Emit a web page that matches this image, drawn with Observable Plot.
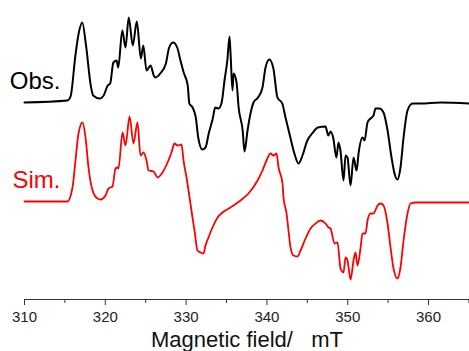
<!DOCTYPE html>
<html>
<head>
<meta charset="utf-8">
<script src="https://cdn.jsdelivr.net/npm/d3@7"></script>
<script src="https://cdn.jsdelivr.net/npm/@observablehq/plot@0.6"></script>
<style>
  html, body { margin: 0; padding: 0; background: #fff; }
  #chart { width: 469px; height: 351px; overflow: hidden; }
</style>
</head>
<body>
<div id="chart"></div>
<script>
// Magnetic field (mT) and signal (arbitrary units, relative to each trace's baseline)
const obsField = [310.0, 315.3, 315.7, 316.3, 316.7, 317.15, 317.6, 318.2, 318.5, 319.3, 319.8, 320.3, 320.6, 321.0, 321.4, 321.6, 322.1, 322.5, 322.9, 323.4, 323.9, 324.4, 324.7, 325.1, 325.6, 326.0, 326.2, 326.8, 327.5, 327.9, 328.4, 328.9, 329.3, 329.7, 330.2, 330.4, 330.8, 331.2, 331.5, 332.0, 332.4, 332.8, 333.3, 333.6, 334.0, 334.4, 334.75, 335.1, 335.37, 335.5, 335.74, 335.87, 336.24, 336.5, 337.0, 337.23, 337.6, 337.97, 338.34, 338.9, 339.45, 339.83, 340.3, 340.8, 341.3, 341.9, 342.3, 342.9, 343.4, 343.9, 344.4, 345.0, 345.6, 346.3, 347.25, 347.6, 347.87, 348.2, 348.6, 348.86, 349.1, 349.48, 349.73, 349.97, 350.35, 350.72, 351.1, 351.34, 351.83, 352.08, 352.45, 352.82, 353.19, 353.44, 353.93, 354.43, 354.93, 355.42, 355.79, 356.16, 356.53, 356.91, 357.4, 358.02, 359.0, 361.5, 365.07];
const obsSignal = [0, 2, 6, 47, 69, 80, 58, 17, 7, 4, 7, 17, 19, 40, 42, 35, 72, 55, 85, 57, 81, 44, 57, 32, 37, 27, 25, 29, 39, 55, 60, 55, 42, 30, 17, -1, -5, -15, -35, -47, -45, -31, -16, -5, -6, 0, 22, 42, 66, 49, 12, 29, 20, -5, -28, -49, -28, -11, 0, 5, 15, 35, 43, 34, 5, -1, -15, -35, -51, -61, -53, -38, -31, -25, -24, -33, -29, -35, -55, -40, -48, -78, -53, -55, -83, -55, -68, -51, -35, -38, -20, -16, -13, -6, -6, -10, -28, -55, -71, -77, -65, -35, -8, -1, -1, 0, -1];

const simField = [310.0, 315.3, 315.94, 316.31, 316.68, 317.18, 317.55, 317.92, 318.42, 319.03, 319.41, 320.02, 320.4, 320.89, 321.26, 321.51, 321.63, 322.13, 322.5, 323.0, 323.49, 323.98, 324.36, 324.73, 325.1, 325.35, 325.97, 326.46, 327.08, 327.7, 328.19, 328.56, 328.94, 329.43, 329.68, 330.05, 330.3, 330.79, 331.04, 331.41, 331.78, 332.15, 332.4, 332.77, 333.27, 333.89, 334.5, 335.49, 336.73, 337.72, 338.84, 339.45, 339.95, 340.44, 340.82, 341.19, 341.44, 341.93, 342.05, 342.43, 342.67, 342.92, 343.29, 343.79, 344.16, 344.78, 345.4, 346.01, 346.63, 347.25, 347.62, 347.87, 348.37, 348.74, 349.11, 349.48, 349.73, 349.97, 350.35, 350.72, 350.96, 351.21, 351.58, 351.83, 352.2, 352.45, 352.82, 353.19, 353.69, 354.06, 354.43, 354.93, 355.3, 355.67, 356.16, 356.53, 356.91, 357.4, 357.77, 358.39, 361.0, 365.07];
const simSignal = [0, 0, 14, 41, 68, 79, 64, 34, 11, 3, 2, 6, 13, 15, 33, 34, 33, 69, 56, 85, 58, 79, 46, 49, 41, 31, 30, 24, 29, 39, 49, 58, 56, 57, 41, 24, 11, -16, -29, -49, -51, -52, -44, -36, -26, -16, -11, -6, 1, 8, 21, 31, 41, 48, 46, 48, 34, 18, 4, -12, -29, -46, -54, -55, -49, -37, -27, -22, -19, -22, -26, -27, -42, -41, -67, -71, -56, -59, -78, -59, -51, -64, -47, -32, -32, -19, -12, -12, -4, -2, -4, -22, -46, -67, -77, -66, -39, -12, -2, -1, -1, -1];

const seriesNames = ["Obs.", "Sim."];
const seriesColors = ["#000000", "#ff0000"];
const seriesOffsets = [0, -99];

const majorTicks = [310, 320, 330, 340, 350, 360];
const minorTicks = [315, 325, 335, 345, 355, 365];
const xLabel = "Magnetic field/\u00a0\u00a0\u00a0mT";

const xDomain = [310, 365.07];
const yDomain = [-197, 102];

const obsData = obsField.map((f, i) => ({field: f, signal: obsSignal[i] + seriesOffsets[0]}));
const simData = simField.map((f, i) => ({field: f, signal: simSignal[i] + seriesOffsets[1]}));
const labelData = seriesNames.map((name, i) => ({name, field: xDomain[0], signal: seriesOffsets[i], color: seriesColors[i]}));

const chart = Plot.plot({
  width: 469,
  height: 351,
  marginLeft: 24,
  marginRight: 0,
  marginTop: 0,
  marginBottom: 52,
  style: {fontFamily: "'Liberation Sans', Arial, sans-serif", background: "#fff", overflow: "visible"},
  x: {domain: xDomain},
  y: {domain: yDomain, axis: null},
  marks: [
    Plot.ruleY([yDomain[0]], {stroke: "#333", strokeWidth: 1}),
    Plot.axisX({ticks: minorTicks, tickSize: 4, tickFormat: () => "", label: null, stroke: "#333"}),
    Plot.axisX({ticks: majorTicks, tickSize: 6, tickPadding: 6, fontSize: 15, label: null, stroke: "#333", fill: "#222"}),
    Plot.line(obsData, {x: "field", y: "signal", curve: "monotone-x", stroke: seriesColors[0], strokeWidth: 2, strokeLinejoin: "round"}),
    Plot.line(simData, {x: "field", y: "signal", curve: "monotone-x", stroke: seriesColors[1], strokeWidth: 1.8, strokeLinejoin: "round"}),
    Plot.text(labelData, {x: "field", y: "signal", text: "name", fill: "color", textAnchor: "end", lineAnchor: "bottom", dx: 36, dy: -14, fontSize: 24}),
    Plot.text([xLabel], {frameAnchor: "bottom", lineAnchor: "bottom", dy: 47, fontSize: 22, fill: "#111"})
  ]
});
document.getElementById("chart").appendChild(chart);
</script>
</body>
</html>
